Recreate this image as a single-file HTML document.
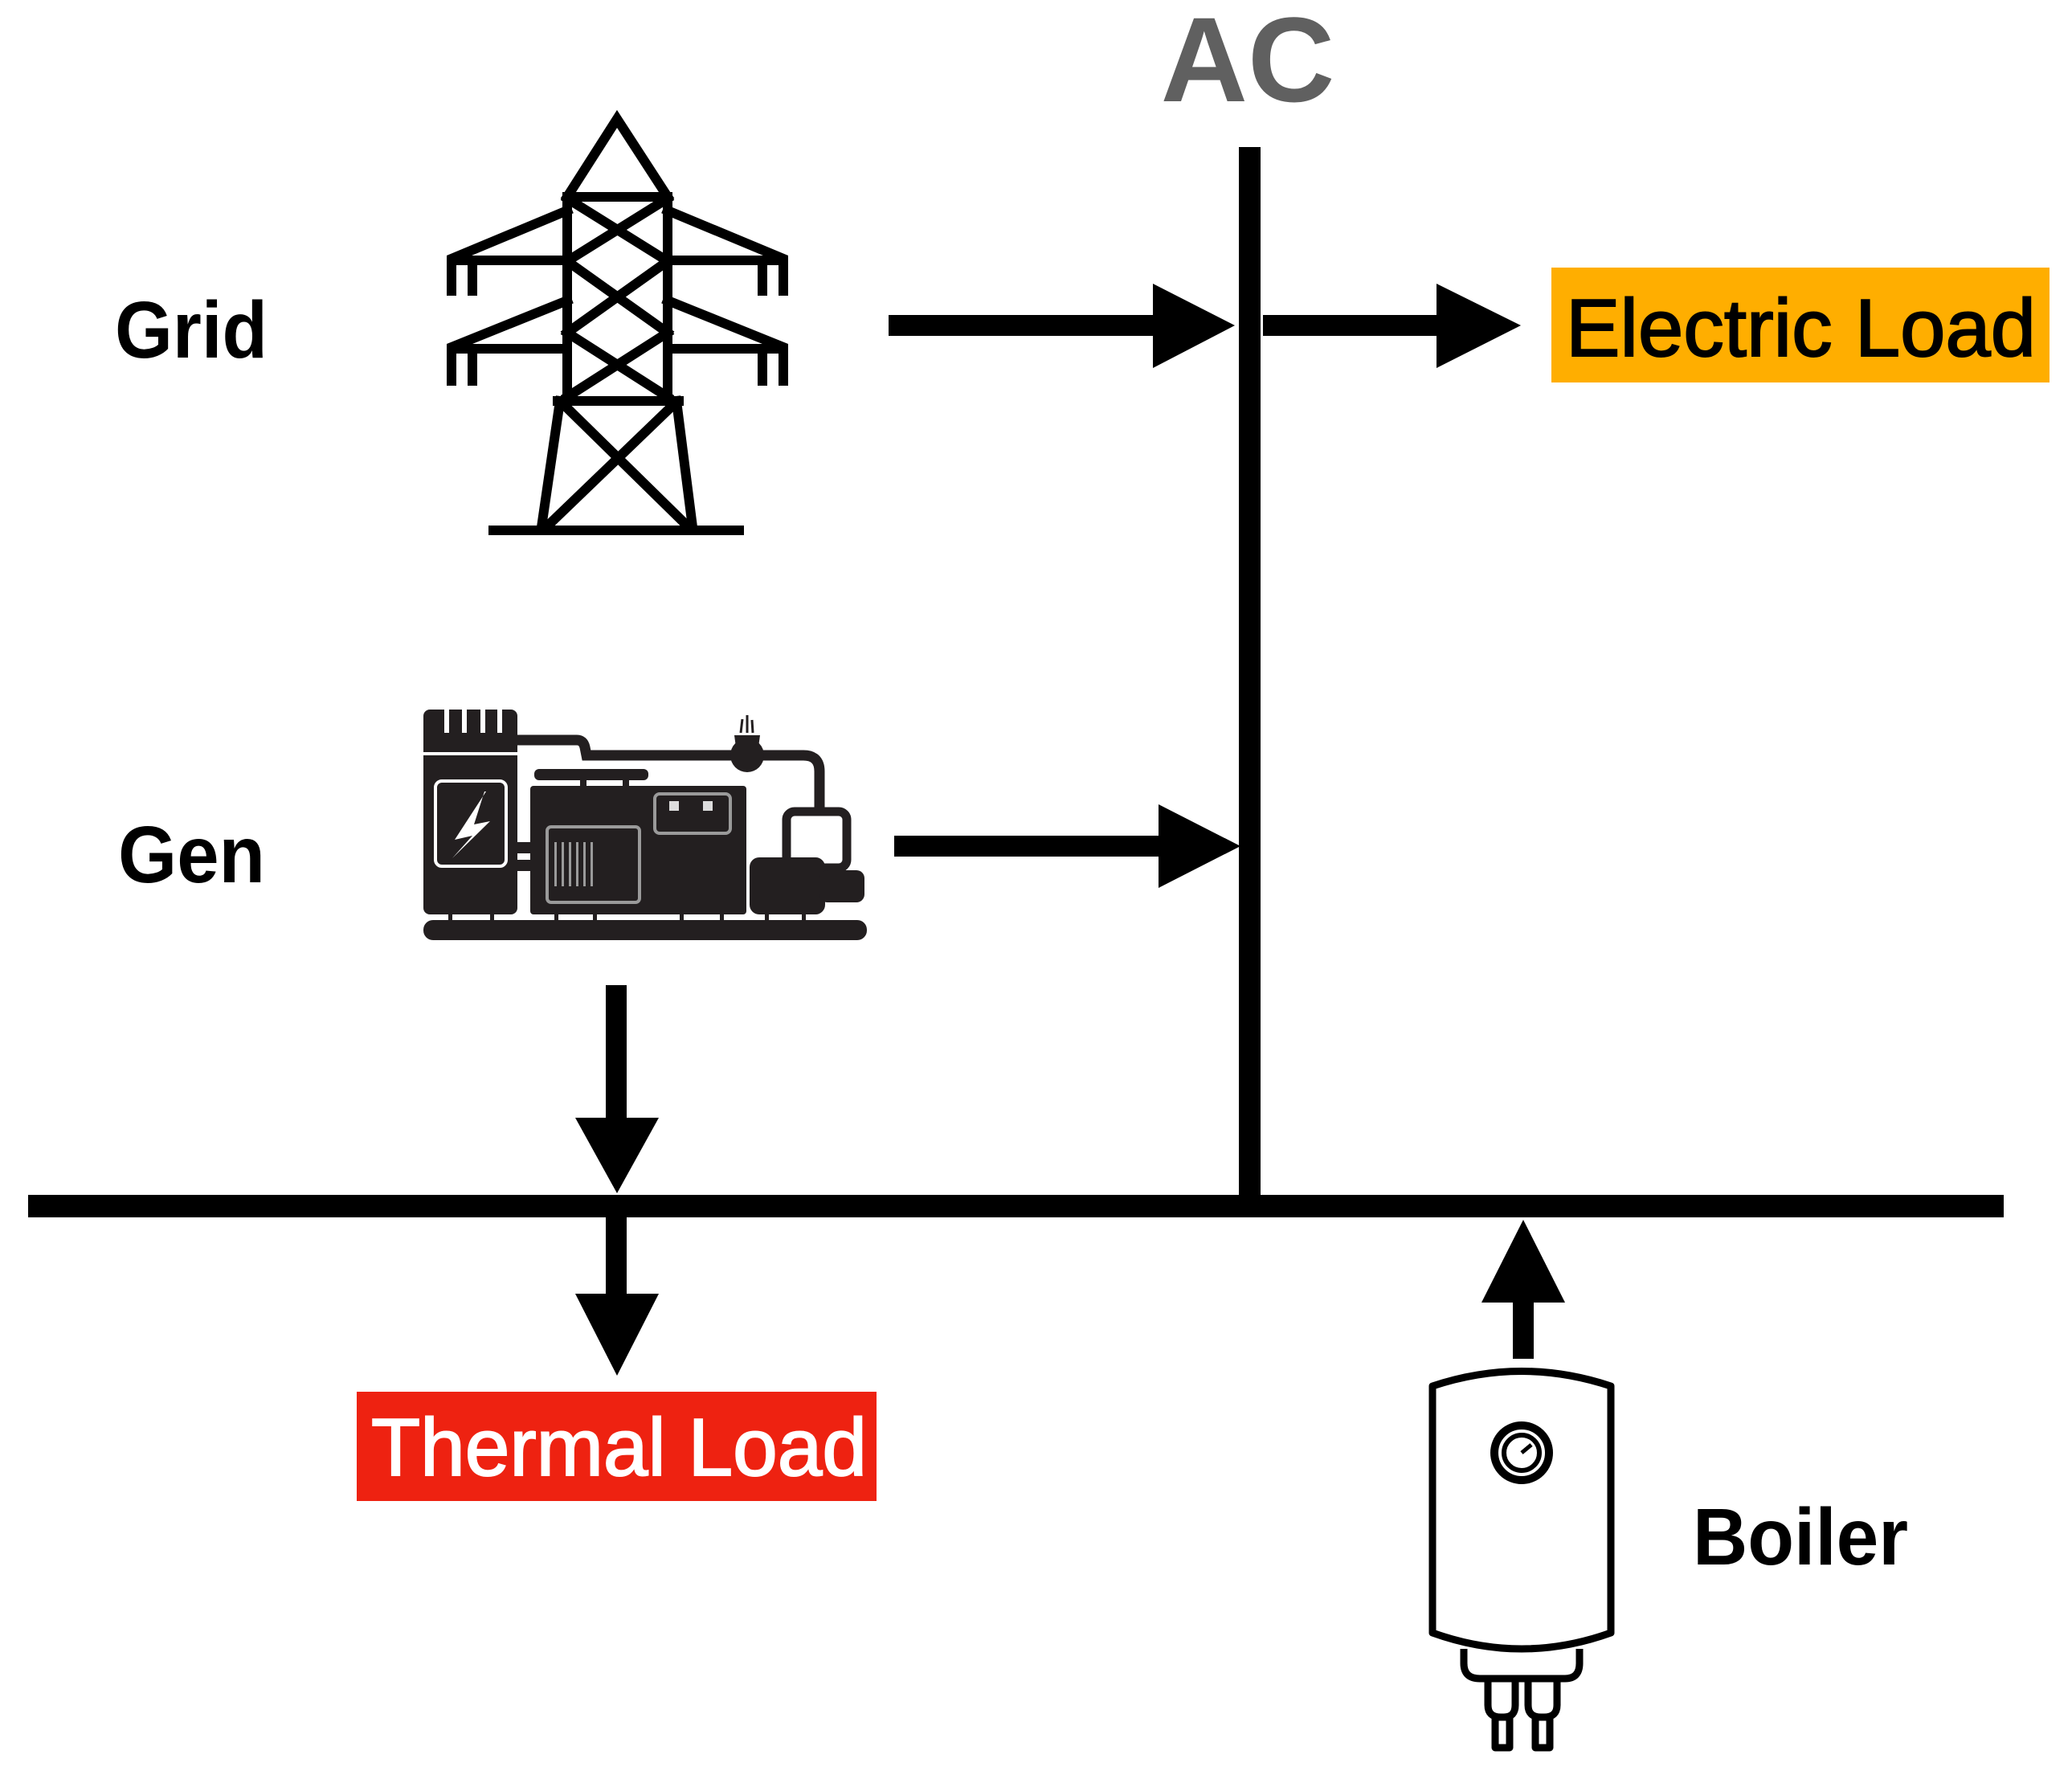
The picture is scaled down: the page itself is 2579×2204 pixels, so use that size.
<!DOCTYPE html>
<html><head><meta charset="utf-8"><style>
html,body{margin:0;padding:0;background:#fff}
svg{display:block}
text{font-family:"Liberation Sans",Arial,sans-serif}
</style></head><body>
<svg width="2579" height="2204" viewBox="0 0 2579 2204" xmlns="http://www.w3.org/2000/svg">
<rect width="2579" height="2204" fill="#fff"/>
<text x="1553" y="126" font-size="150" font-weight="bold" fill="#606060" text-anchor="middle">AC</text>
<rect x="1542" y="183" width="27" height="1320" fill="#000"/>
<rect x="35" y="1487" width="2459" height="28" fill="#000"/>
<rect x="1106" y="392" width="336" height="26" fill="#000"/>
<polygon points="1435,353 1537,405 1435,458" fill="#000"/>
<rect x="1572" y="392" width="222" height="26" fill="#000"/>
<polygon points="1788,353 1893,405 1788,458" fill="#000"/>
<rect x="1931" y="333" width="620" height="143" fill="#FFAE00"/>
<text x="1949" y="443" font-size="101" fill="#000" stroke="#000" stroke-width="2" textLength="585" lengthAdjust="spacingAndGlyphs">Electric Load</text>
<rect x="1113" y="1040" width="334" height="26" fill="#000"/>
<polygon points="1442,1001 1544,1053 1442,1105" fill="#000"/>
<rect x="754" y="1226" width="26" height="170" fill="#000"/>
<polygon points="716,1391 820,1391 768,1485" fill="#000"/>
<rect x="754" y="1515" width="26" height="100" fill="#000"/>
<polygon points="716,1610 820,1610 768,1712" fill="#000"/>
<rect x="444" y="1732" width="647" height="136" fill="#EE2211"/>
<text x="462" y="1836" font-size="101" fill="#fff" stroke="#fff" stroke-width="2" textLength="617" lengthAdjust="spacingAndGlyphs">Thermal Load</text>
<polygon points="1896,1518 1948,1621 1844,1621" fill="#000"/>
<rect x="1883" y="1618" width="26" height="73" fill="#000"/>
<text x="143" y="445" font-size="100" font-weight="bold" fill="#000" textLength="190" lengthAdjust="spacingAndGlyphs">Grid</text>
<text x="147" y="1098" font-size="100" font-weight="bold" fill="#000" textLength="183" lengthAdjust="spacingAndGlyphs">Gen</text>
<text x="2107" y="1947" font-size="100" font-weight="bold" fill="#000" textLength="268" lengthAdjust="spacingAndGlyphs">Boiler</text>

<g stroke="#000" stroke-width="12" fill="none" stroke-linecap="square" stroke-linejoin="miter">
<polyline points="706,245 768,148 831,245"/>
<line x1="706" y1="245" x2="831" y2="245"/>
<line x1="706" y1="245" x2="706" y2="499"/>
<line x1="831" y1="245" x2="831" y2="499"/>
<line x1="706" y1="247" x2="831" y2="325"/>
<line x1="831" y1="247" x2="706" y2="325"/>
<line x1="706" y1="325" x2="831" y2="414"/>
<line x1="831" y1="325" x2="706" y2="414"/>
<line x1="706" y1="414" x2="831" y2="494"/>
<line x1="831" y1="414" x2="706" y2="494"/>
<polyline points="706,262 562,322 562,362"/>
<line x1="562" y1="324" x2="706" y2="324"/>
<line x1="588" y1="324" x2="588" y2="362"/>
<polyline points="831,262 975,322 975,362"/>
<line x1="831" y1="324" x2="975" y2="324"/>
<line x1="949" y1="324" x2="949" y2="362"/>
<polyline points="706,374 562,432 562,474"/>
<line x1="562" y1="434" x2="706" y2="434"/>
<line x1="588" y1="434" x2="588" y2="474"/>
<polyline points="831,374 975,432 975,474"/>
<line x1="831" y1="434" x2="975" y2="434"/>
<line x1="949" y1="434" x2="949" y2="474"/>
<line x1="694" y1="499" x2="845" y2="499"/>
<line x1="697" y1="499" x2="674" y2="656"/>
<line x1="842" y1="499" x2="862" y2="656"/>
<line x1="700" y1="502" x2="855" y2="654"/>
<line x1="840" y1="502" x2="682" y2="654"/>
<line x1="614" y1="660" x2="920" y2="660"/>
</g>

<g>
<rect x="527" y="883" width="117" height="255" rx="8" fill="#231f20"/>
<rect x="553" y="880" width="6" height="32" fill="#fff"/>
<rect x="575" y="880" width="6" height="32" fill="#fff"/>
<rect x="598" y="880" width="6" height="32" fill="#fff"/>
<rect x="619" y="880" width="6" height="32" fill="#fff"/>
<rect x="527" y="936" width="117" height="4" fill="#fff"/>
<rect x="542" y="972" width="88" height="106" rx="8" fill="none" stroke="#fff" stroke-width="4"/>
<polygon points="605,985 566,1045 588,1040 563,1068 610,1022 590,1026 603,985" fill="#fff"/>
<rect x="644" y="1048" width="20" height="14" fill="#231f20"/>
<rect x="644" y="1070" width="20" height="14" fill="#231f20"/>
<rect x="660" y="978" width="269" height="160" rx="4" fill="#231f20"/>
<rect x="665" y="957" width="142" height="14" rx="6" fill="#231f20"/>
<rect x="722" y="969" width="8" height="10" fill="#231f20"/>
<rect x="775" y="969" width="8" height="10" fill="#231f20"/>
<rect x="681" y="1029" width="115" height="94" rx="5" fill="none" stroke="#9a9a9a" stroke-width="4"/>
<g fill="#9a9a9a"><rect x="690" y="1048" width="3" height="55"/><rect x="699" y="1048" width="3" height="55"/><rect x="708" y="1048" width="3" height="55"/><rect x="717" y="1048" width="3" height="55"/><rect x="726" y="1048" width="3" height="55"/><rect x="735" y="1048" width="3" height="55"/></g>
<rect x="815" y="988" width="94" height="49" rx="6" fill="none" stroke="#9a9a9a" stroke-width="4"/>
<rect x="833" y="997" width="12" height="12" fill="#ddd"/>
<rect x="875" y="997" width="12" height="12" fill="#ddd"/>
<path d="M644,921 L718,921 Q726,921 728,930 L730,940 L1000,940 Q1020,940 1020,960 L1020,1010" fill="none" stroke="#231f20" stroke-width="13"/>
<circle cx="930" cy="940" r="21" fill="#231f20"/>
<path d="M914,915 L946,915 L944,930 L916,930 Z" fill="#231f20"/>
<path d="M922,912 L924,895 M930,912 L930,890 M937,912 L936,896" stroke="#231f20" stroke-width="3"/>
<rect x="979" y="1010" width="75" height="70" rx="10" fill="#fff" stroke="#231f20" stroke-width="11"/>
<rect x="933" y="1067" width="94" height="71" rx="12" fill="#231f20"/>
<rect x="1020" y="1083" width="56" height="40" rx="10" fill="#231f20"/>
<rect x="527" y="1145" width="552" height="25" rx="12" fill="#231f20"/>
<g fill="#231f20"><rect x="558" y="1136" width="5" height="10"/><rect x="610" y="1136" width="5" height="10"/><rect x="690" y="1136" width="5" height="10"/><rect x="738" y="1136" width="5" height="10"/><rect x="846" y="1136" width="5" height="10"/><rect x="896" y="1136" width="5" height="10"/><rect x="952" y="1136" width="5" height="10"/><rect x="998" y="1136" width="5" height="10"/></g>
</g>

<g fill="none" stroke="#000" stroke-width="9" stroke-linejoin="round">
<path d="M1783,1725 Q1894,1688 2005,1725 L2005,2032 Q1894,2072 1783,2032 Z" fill="#fff"/>
<path d="M1822,2052 L1822,2070 Q1822,2089 1842,2089 L1948,2089 Q1966,2089 1966,2070 L1966,2052"/>
<path d="M1852,2089 L1852,2122 Q1852,2137 1868,2137 L1872,2137 Q1886,2137 1886,2122 L1886,2089"/>
<path d="M1902,2089 L1902,2122 Q1902,2137 1918,2137 L1922,2137 Q1938,2137 1938,2122 L1938,2089"/>
<rect x="1861" y="2137" width="18" height="38"/>
<rect x="1911" y="2137" width="18" height="38"/>
<circle cx="1894" cy="1808" r="34" stroke-width="10"/>
<circle cx="1894" cy="1808" r="22" stroke-width="6"/>
<line x1="1894" y1="1808" x2="1906" y2="1798" stroke-width="5"/>
</g>
</svg>
</body></html>
